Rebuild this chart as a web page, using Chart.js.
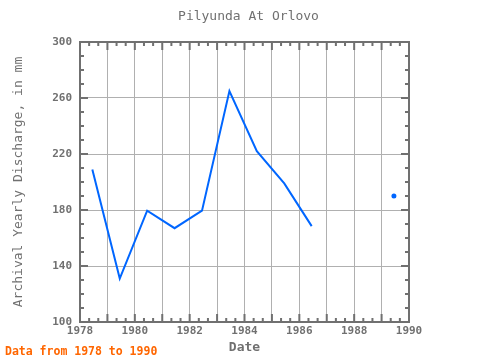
<!DOCTYPE html>
<html>
<head>
<meta charset="utf-8">
<script src="https://cdn.jsdelivr.net/npm/chart.js@4"></script>
<style>
  body { margin: 0; background: #fff; }
  #wrap { position: relative; width: 480px; height: 360px; }
  #note {
    position: absolute; left: 5px; top: 344px;
    font: bold 11.5px "DejaVu Sans Mono", monospace; color: #ff6600;
  }
</style>
</head>
<body>
<div id="wrap">
  <canvas id="chart" width="480" height="360"></canvas>
  <div id="note">Data from 1978 to 1990</div>
</div>
<script>
/* ====================
   DATA
==================== */
const chartTitle = "Pilyunda At Orlovo";
const years = [1978, 1979, 1980, 1981, 1982, 1983, 1984, 1985, 1986, 1987, 1988, 1989];
const discharge = [209, 131, 179.5, 167, 179.5, 265, 222, 199, 168.5, null, null, 190];
const xTicks = [1978, 1980, 1982, 1984, 1986, 1988, 1990];
const yTicks = [100, 140, 180, 220, 260, 300];

const GRAY = "#707070";
const MONO = "'DejaVu Sans Mono', monospace";

// title over the plot centre, inward ticks + frame placed through the scales
const framePlugin = {
  id: "frame",
  afterDraw(chart) {
    const { ctx, chartArea: a, scales: { x, y } } = chart;
    ctx.save();
    ctx.fillStyle = GRAY;
    ctx.font = "13px " + MONO;
    ctx.textAlign = "center";
    ctx.textBaseline = "middle";
    ctx.fillText(chartTitle, (a.left + a.right) / 2 + 4, 17);

    ctx.strokeStyle = GRAY;
    ctx.lineWidth = 2;
    ctx.beginPath();
    for (let i = 0; i <= 36; i++) {
      const px = x.getPixelForValue(1978 + i / 3);
      const len = i % 3 === 0 ? 8 : 4;
      ctx.moveTo(px, a.bottom); ctx.lineTo(px, a.bottom - len);
      ctx.moveTo(px, a.top); ctx.lineTo(px, a.top + len);
    }
    for (let v = 100; v <= 300; v += 10) {
      const py = y.getPixelForValue(v);
      const len = (v - 100) % 40 === 0 ? 8 : 4;
      ctx.moveTo(a.left, py); ctx.lineTo(a.left + len, py);
      ctx.moveTo(a.right, py); ctx.lineTo(a.right - len, py);
    }
    ctx.stroke();
    ctx.strokeRect(a.left, a.top, a.right - a.left, a.bottom - a.top);
    ctx.restore();
  }
};

// a dot only where a value stands alone between gaps
const isolated = i =>
  discharge[i] != null && discharge[i - 1] == null && discharge[i + 1] == null;

new Chart(document.getElementById("chart"), {
  type: "line",
  data: {
    datasets: [{
      data: years.map((yr, i) => ({ x: yr + 0.45, y: discharge[i] })),
      borderColor: "#0066ff",
      backgroundColor: "#0066ff",
      borderWidth: 2,
      pointRadius: ctx => (isolated(ctx.dataIndex) ? 1.5 : 0),
      pointHoverRadius: ctx => (isolated(ctx.dataIndex) ? 1.5 : 0),
      spanGaps: false,
      tension: 0
    }]
  },
  options: {
    responsive: false,
    animation: false,
    layout: { padding: { left: 11, right: 71, top: 42, bottom: 0 } },
    plugins: {
      legend: { display: false },
      tooltip: { enabled: false },
      title: { display: false }
    },
    scales: {
      x: {
        type: "linear",
        min: 1978,
        max: 1990,
        afterBuildTicks: s => { s.ticks = years.concat([1990]).map(v => ({ value: v })); },
        afterFit: s => { s.height = 38; },
        ticks: {
          autoSkip: false,
          maxRotation: 0,
          padding: 3,
          color: GRAY,
          font: { family: MONO, size: 11, weight: "bold" },
          callback: v => (xTicks.includes(v) ? String(v) : "")
        },
        grid: { color: "#b0b0b0", lineWidth: 1, drawTicks: false },
        border: { display: false },
        title: {
          display: true,
          text: "Date",
          color: GRAY,
          font: { family: MONO, size: 13, weight: "bold" },
          padding: { top: 0, bottom: 5 }
        }
      },
      y: {
        min: 100,
        max: 300,
        afterBuildTicks: s => { s.ticks = yTicks.map(v => ({ value: v })); },
        afterFit: s => { s.width = 69; },
        ticks: {
          padding: 8,
          color: GRAY,
          font: { family: MONO, size: 11, weight: "bold" }
        },
        grid: { color: "#b0b0b0", lineWidth: 1, drawTicks: false },
        border: { display: false },
        title: {
          display: true,
          text: "Archival Yearly Discharge, in mm",
          color: GRAY,
          font: { family: MONO, size: 13, weight: "normal" },
          padding: { top: 0, bottom: 0 }
        }
      }
    }
  },
  plugins: [framePlugin]
});
</script>
</body>
</html>
